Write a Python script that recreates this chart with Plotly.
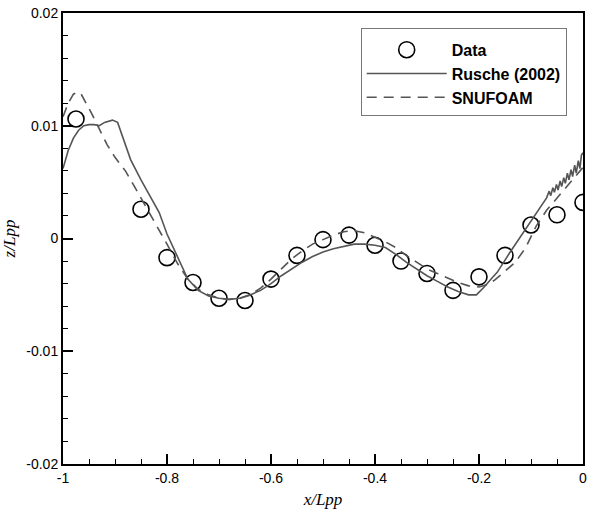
import plotly.graph_objects as go

# Experimental data
data_x = [-0.975, -0.85, -0.80, -0.75, -0.70, -0.65, -0.60, -0.55, -0.50, -0.45,
          -0.40, -0.35, -0.30, -0.25, -0.20, -0.15, -0.10, -0.05, 0.0]
data_z = [0.0106, 0.0026, -0.0017, -0.0039, -0.0053, -0.0055, -0.0036, -0.0015, -0.0001, 0.0003,
          -0.0006, -0.0020, -0.0031, -0.0046, -0.0034, -0.0015, 0.0012, 0.0021, 0.0032]

# Rusche (2002)
rusche_x = [-1.0, -0.99, -0.98, -0.97, -0.96, -0.95, -0.94, -0.93, -0.92, -0.905, -0.895,
            -0.88, -0.87, -0.85, -0.83, -0.815, -0.80, -0.78, -0.76, -0.74, -0.72, -0.70,
            -0.68, -0.66, -0.64, -0.62, -0.60, -0.58, -0.56, -0.54, -0.52, -0.50, -0.48,
            -0.46, -0.44, -0.42, -0.40, -0.38, -0.36, -0.34, -0.32, -0.30, -0.28, -0.26,
            -0.24, -0.22, -0.205, -0.19, -0.175, -0.165, -0.14, -0.12, -0.10, -0.085, -0.07,
            -0.065, -0.062, -0.058, -0.055, -0.051, -0.048, -0.044, -0.041, -0.037, -0.034,
            -0.030, -0.027, -0.023, -0.020, -0.016, -0.013, -0.009, -0.006, -0.003, 0.0]
rusche_z = [0.0062, 0.0078, 0.0089, 0.0096, 0.0100, 0.0101, 0.0101, 0.0100, 0.0103, 0.0105, 0.0103,
            0.0082, 0.0070, 0.0052, 0.0035, 0.0023, 0.0004, -0.0016, -0.0036, -0.0046, -0.0051, -0.0053,
            -0.0054, -0.0053, -0.0050, -0.0046, -0.0040, -0.0033, -0.0027, -0.0021, -0.0016, -0.0012, -0.0009,
            -0.0007, -0.0005, -0.0005, -0.0006, -0.0008, -0.0014, -0.0021, -0.0027, -0.0033, -0.0038, -0.0043,
            -0.0047, -0.0050, -0.0050, -0.0043, -0.0035, -0.0030, -0.0012, 0.0002, 0.0015, 0.0026, 0.0036,
            0.0042, 0.0038, 0.0045, 0.0041, 0.0048, 0.0043, 0.0051, 0.0046, 0.0054, 0.0049,
            0.0058, 0.0052, 0.0061, 0.0055, 0.0065, 0.0058, 0.0069, 0.0062, 0.0074, 0.0076]

# SNUFOAM
snu_x = [-1.0, -0.99, -0.98, -0.972, -0.965, -0.955, -0.945, -0.93, -0.915, -0.90, -0.88,
         -0.86, -0.84, -0.82, -0.80, -0.78, -0.76, -0.74, -0.72, -0.70, -0.68, -0.66,
         -0.64, -0.62, -0.60, -0.58, -0.56, -0.54, -0.52, -0.50, -0.48, -0.46, -0.44,
         -0.42, -0.40, -0.38, -0.36, -0.34, -0.32, -0.30, -0.28, -0.26, -0.24, -0.22,
         -0.20, -0.185, -0.17, -0.15, -0.13, -0.11, -0.09, -0.07, -0.05, -0.03, -0.01, 0.0]
snu_z = [0.0108, 0.0120, 0.0128, 0.0130, 0.0128, 0.0120, 0.0111, 0.0097, 0.0083, 0.0072, 0.0060,
         0.0044, 0.0028, 0.0012, -0.0005, -0.0022, -0.0036, -0.0045, -0.0050, -0.0053, -0.0054, -0.0053,
         -0.0050, -0.0044, -0.0036, -0.0027, -0.0018, -0.0011, -0.0005, -0.0001, 0.0003, 0.0006, 0.0007,
         0.0005, 0.0001, -0.0003, -0.0008, -0.0015, -0.0021, -0.0027, -0.0031, -0.0035, -0.0039, -0.0042,
         -0.0043, -0.0041, -0.0037, -0.0029, -0.0021, -0.0008, 0.0011, 0.0025, 0.0036, 0.0046, 0.0058, 0.0063]

x_tickvals = [-1, -0.8, -0.6, -0.4, -0.2, 0]
x_ticktext = ["-1", "-0.8", "-0.6", "-0.4", "-0.2", "0"]
y_tickvals = [-0.02, -0.01, 0, 0.01, 0.02]
y_ticktext = ["-0.02", "-0.01", "0", "0.01", "0.02"]

line_col = "#555555"

fig = go.Figure()
fig.add_trace(go.Scatter(x=data_x, y=data_z, mode="markers", name="Data",
                         marker=dict(symbol="circle-open", size=16, color="black",
                                     line=dict(width=1.6, color="black"))))
fig.add_trace(go.Scatter(x=rusche_x, y=rusche_z, mode="lines", name="Rusche (2002)",
                         line=dict(color=line_col, width=1.6)))
fig.add_trace(go.Scatter(x=snu_x, y=snu_z, mode="lines", name="SNUFOAM",
                         line=dict(color=line_col, width=1.6, dash="10px,7px")))

axis_common = dict(
    showgrid=False, zeroline=False, showline=True, linecolor="black", linewidth=2,
    mirror=True, ticks="inside", ticklen=10, tickwidth=2, tickcolor="black",
    tickfont=dict(family="Liberation Sans, Arial", size=14, color="black"),
)
title_font = dict(family="Liberation Serif, Times New Roman", size=17, color="black", style="italic")

fig.update_xaxes(range=[-1, 0], tickmode="array", tickvals=x_tickvals, ticktext=x_ticktext,
                 minor=dict(ticks="inside", ticklen=5, tickwidth=1, tickcolor="black", dtick=0.05,
                            tick0=-1, showgrid=False),
                 title=dict(text="x/Lpp", font=title_font, standoff=8),
                 **axis_common)
fig.update_yaxes(range=[-0.02, 0.02], tickmode="array", tickvals=y_tickvals, ticktext=y_ticktext,
                 minor=dict(ticks="inside", ticklen=5, tickwidth=1, tickcolor="black", dtick=0.002,
                            tick0=-0.02, showgrid=False),
                 title=dict(text="z/Lpp", font=title_font, standoff=6),
                 **axis_common)

fig.update_layout(
    width=592, height=518,
    margin=dict(l=63, r=5, t=13, b=54),
    plot_bgcolor="white", paper_bgcolor="white",
    font=dict(family="Liberation Sans, Arial", color="black"),
    legend=dict(x=0.5725, y=0.967, xanchor="left", yanchor="top",
                bgcolor="white", bordercolor="#777777", borderwidth=1,
                title=dict(text=" ", font=dict(size=3)),
                font=dict(family="Liberation Sans, Arial", size=16, color="black", weight="bold"),
                itemwidth=80),
)

fig.write_html("out.html")
